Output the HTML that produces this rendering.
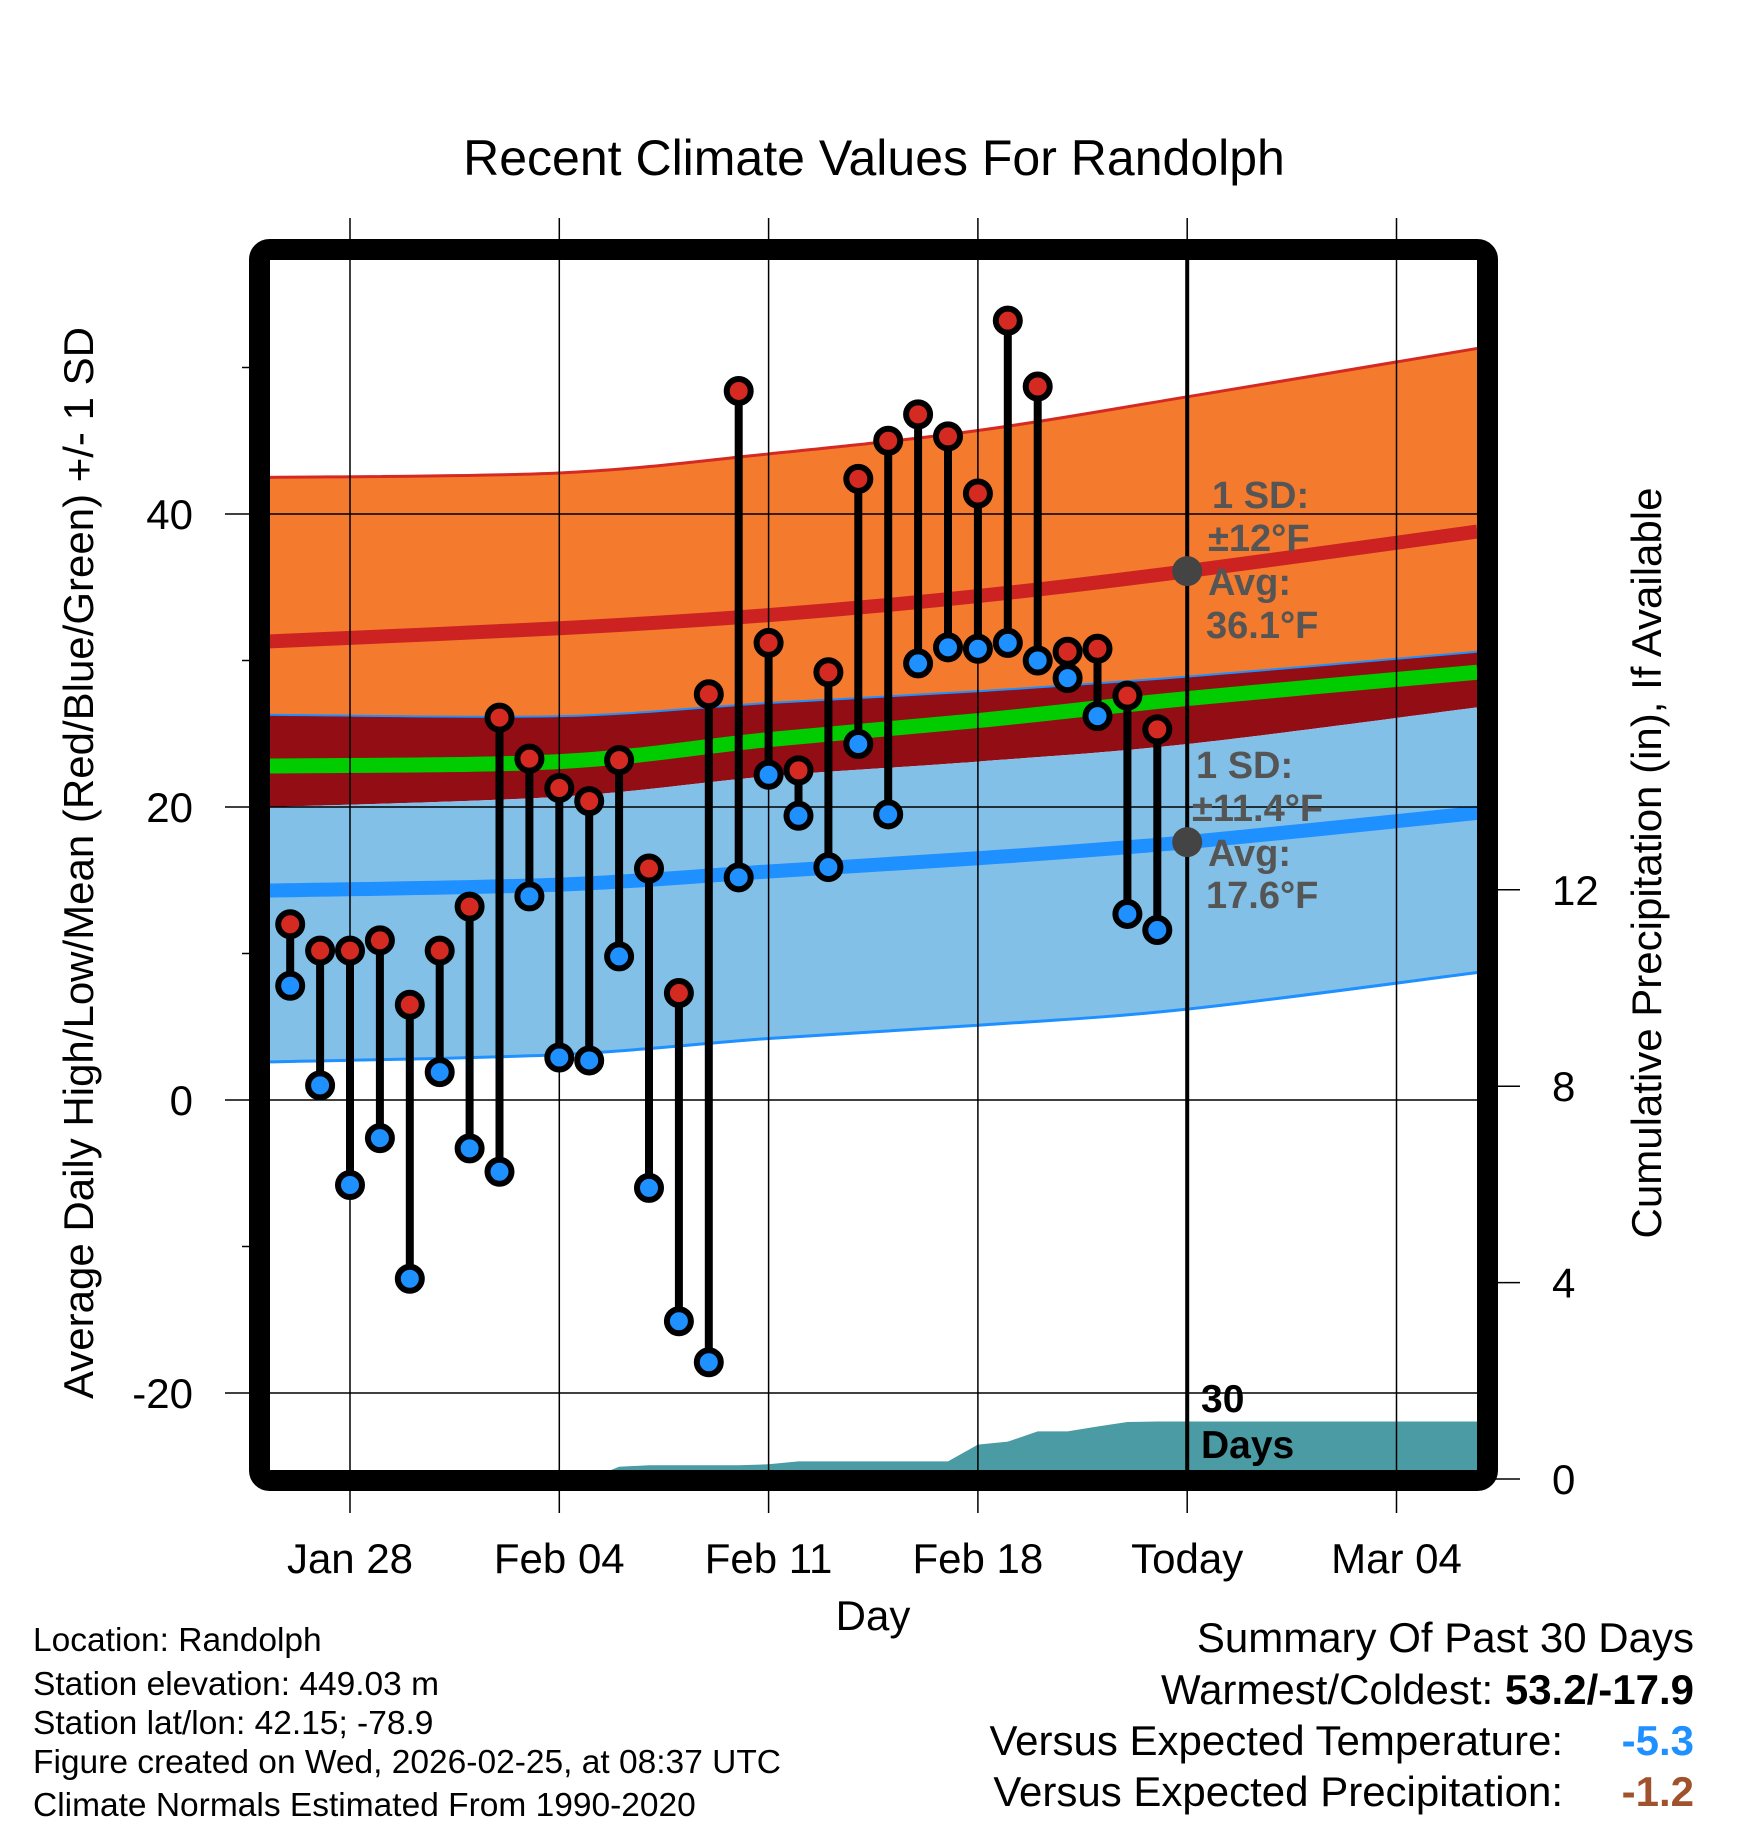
<!DOCTYPE html>
<html><head><meta charset="utf-8"><style>
body{margin:0;background:#fff}
svg{display:block}
text{font-family:"Liberation Sans",sans-serif}
</style></head><body>
<svg id="c" width="1748" height="1828" viewBox="0 0 1748 1828" xmlns="http://www.w3.org/2000/svg">
<defs><clipPath id="clip"><rect x="270" y="260" width="1208" height="1210"/></clipPath></defs>
<text x="874" y="175" font-size="50" text-anchor="middle">Recent Climate Values For Randolph</text>
<g id="normals" clip-path="url(#clip)"></g>
<g id="precip" clip-path="url(#clip)"></g>
<g id="grid"></g>
<g id="series"></g>
<rect x="259.5" y="249.5" width="1228" height="1231" rx="10" fill="none" stroke="#000" stroke-width="21"/>
<g id="axes"></g>
<text transform="translate(93,863) rotate(-90)" font-size="42" text-anchor="middle">Average Daily High/Low/Mean (Red/Blue/Green) +/- 1 SD</text>
<text transform="translate(1661,863) rotate(-90)" font-size="42" text-anchor="middle">Cumulative Precipitation (in), If Available</text>
<text x="873" y="1630" font-size="42" text-anchor="middle">Day</text>
<g font-size="38" font-weight="bold" fill="#555">
<text x="1212" y="508">1 SD:</text><text x="1208" y="551">±12°F</text><text x="1208" y="595">Avg:</text><text x="1206" y="638">36.1°F</text></g>
<g font-size="38" font-weight="bold" fill="#555">
<text x="1196" y="778">1 SD:</text><text x="1192" y="821">±11.4°F</text><text x="1208" y="866">Avg:</text><text x="1206" y="908">17.6°F</text></g>
<g font-size="39" font-weight="bold"><text x="1201" y="1412">30</text><text x="1201" y="1458">Days</text></g>
<g font-size="33.5">
<text x="33" y="1651">Location: Randolph</text>
<text x="33" y="1695">Station elevation: 449.03 m</text>
<text x="33" y="1734">Station lat/lon: 42.15; -78.9</text>
<text x="33" y="1773">Figure created on Wed, 2026-02-25, at 08:37 UTC</text>
<text x="33" y="1816">Climate Normals Estimated From 1990-2020</text></g>
<g font-size="42" text-anchor="end">
<text x="1694" y="1652">Summary Of Past 30 Days</text>
<text x="1694" y="1704">Warmest/Coldest: <tspan font-weight="bold">53.2/-17.9</tspan></text>
<text x="1563" y="1755">Versus Expected Temperature:</text>
<text x="1694" y="1755" font-weight="bold" fill="#1e90ff">-5.3</text>
<text x="1563" y="1806">Versus Expected Precipitation:</text>
<text x="1694" y="1806" font-weight="bold" fill="#a0522d">-1.2</text></g>
</svg>
<script>
// days relative to Jan 28
const obsDays=[-2,-1,0,1,2,3,4,5,6,7,8,9,10,11,12,13,14,15,16,17,18,19,20,21,22,23,24,25,26,27];
const highs=[12.0,10.2,10.2,10.9,6.5,10.2,13.2,26.1,23.3,21.3,20.4,23.2,15.8,7.3,27.7,48.4,31.2,22.5,29.2,42.4,45.0,46.8,45.3,41.4,53.2,48.7,30.6,30.8,27.6,25.3];
const lows=[7.8,1.0,-5.8,-2.6,-12.2,1.9,-3.3,-4.9,13.9,2.9,2.7,9.8,-6.0,-15.1,-17.9,15.2,22.2,19.4,15.9,24.3,19.5,29.8,30.9,30.8,31.2,30.0,28.8,26.2,12.7,11.6];
const normDays=[-2.7,7,14,21,28,37.7];
const highUpper=[42.5,42.8,44.1,45.7,48.0,51.3];
const highMean=[31.3,32.2,33.1,34.4,36.1,38.8];
const lowUpper=[26.3,26.2,27.1,27.9,28.9,30.6];
const meanMean=[22.8,23.1,24.6,25.9,27.4,29.2];
const highLower=[20.0,20.7,22.1,23.1,24.3,26.8];
const lowMean=[14.3,14.7,15.6,16.5,17.6,19.6];
const lowLower=[2.6,3.1,4.2,5.1,6.2,8.7];
const precipDays=[-2,-1,0,1,2,3,4,5,6,7,8,9,10,11,12,13,14,15,16,17,18,19,20,21,22,23,24,25,26,27,38];
const precipVals=[0,0,0,0,0,0,0,0,0,0,0,0.25,0.28,0.28,0.28,0.28,0.30,0.36,0.36,0.36,0.36,0.36,0.36,0.70,0.76,0.97,0.97,1.07,1.16,1.17,1.17];
const yTicks=[-20,0,20,40];
const yMinor=[-10,10,30,50];
const pTicks=[0,4,8,12];
const xTickDays=[0,7,14,21,28,35];
const xTickLabels=["Jan 28","Feb 04","Feb 11","Feb 18","Today","Mar 04"];
const todayDay=28;

const NS="http://www.w3.org/2000/svg";
const X=d=>350+d*29.9, Y=v=>1100-v*14.65, YP=p=>1479-p*49.1;
function mk(tag,attrs,parent){const e=document.createElementNS(NS,tag);for(const k in attrs)e.setAttribute(k,attrs[k]);parent.appendChild(e);return e;}
function pts(days,vals){return days.map((d,i)=>[X(d),Y(vals[i])]);}
function smooth(p){let s="";for(let i=0;i<p.length-1;i++){const p0=p[i-1]||p[i],p1=p[i],p2=p[i+1],p3=p[i+2]||p2;
 const c1=[p1[0]+(p2[0]-p0[0])/6,p1[1]+(p2[1]-p0[1])/6],c2=[p2[0]-(p3[0]-p1[0])/6,p2[1]-(p3[1]-p1[1])/6];
 s+=`C${c1[0]},${c1[1]} ${c2[0]},${c2[1]} ${p2[0]},${p2[1]}`;}return s;}
function band(top,bot){const a=pts(normDays,top),b=pts(normDays,bot).reverse();return `M${a[0][0]},${a[0][1]}`+smooth(a)+`L${b[0][0]},${b[0][1]}`+smooth(b)+"Z";}
function line(v){const a=pts(normDays,v);return `M${a[0][0]},${a[0][1]}`+smooth(a);}
const ng=document.getElementById('normals');
let e;
e=mk('path',{d:band(highUpper,lowUpper),fill:'#f47a2e'},ng);

e=mk('path',{d:line(highUpper),fill:'none',stroke:'#d42a22','stroke-width':3},ng);

e=mk('path',{d:band(lowUpper,highLower),fill:'#930d14'},ng);

e=mk('path',{d:band(highLower,lowLower),fill:'#82c0e8'},ng);

e=mk('path',{d:line(lowUpper),fill:'none',stroke:'#1e90ff','stroke-width':2},ng);

e=mk('path',{d:line(lowLower),fill:'none',stroke:'#1e90ff','stroke-width':3},ng);

e=mk('path',{d:line(highMean),fill:'none',stroke:'#cc2222','stroke-width':14},ng);

e=mk('path',{d:line(meanMean),fill:'none',stroke:'#00cc00','stroke-width':15},ng);

e=mk('path',{d:line(lowMean),fill:'none',stroke:'#1e90ff','stroke-width':14},ng);


const pg=document.getElementById('precip');
let pd=`M${X(precipDays[0])},${YP(0)}`;precipDays.forEach((d,i)=>{pd+=`L${X(d)},${YP(precipVals[i])}`;});
pd+=`L${X(precipDays[precipDays.length-1])},${YP(0)}Z`;
e=mk('path',{d:pd,fill:'#4a9ba3'},pg);


const gg=document.getElementById('grid'),ag=document.getElementById('axes');
xTickDays.forEach((d,i)=>{
 e=mk('line',{x1:X(d),x2:X(d),y1:218,y2:1513,stroke:'#000','stroke-width':1.5},gg);
 
 e=mk('text',{x:X(d),y:1573,'font-size':42,'text-anchor':'middle'},ag);e.textContent=xTickLabels[i];
 
});
yTicks.forEach(v=>{
 e=mk('line',{x1:225,x2:1478,y1:Y(v),y2:Y(v),stroke:'#000','stroke-width':1.5},gg);
 
 e=mk('text',{x:193,y:Y(v)+15,'font-size':42,'text-anchor':'end'},ag);e.textContent=v;
 
});
yMinor.forEach(v=>{
 e=mk('line',{x1:242,x2:255,y1:Y(v),y2:Y(v),stroke:'#000','stroke-width':1.5},ag);
 
});
pTicks.forEach(p=>{
 e=mk('line',{x1:1495,x2:1520,y1:YP(p),y2:YP(p),stroke:'#000','stroke-width':1.5},ag);
 
 e=mk('text',{x:1552,y:YP(p)+15,'font-size':42},ag);e.textContent=p;
 
});
e=mk('line',{x1:X(todayDay),x2:X(todayDay),y1:255,y2:1475,stroke:'#000','stroke-width':4},gg);

const todayIdx=normDays.indexOf(todayDay);
e=mk('circle',{cx:X(todayDay),cy:Y(highMean[todayIdx]),r:15,fill:'#444'},gg);

e=mk('circle',{cx:X(todayDay),cy:Y(lowMean[todayIdx]),r:15,fill:'#444'},gg);


const sg=document.getElementById('series');
obsDays.forEach((d,i)=>{
 e=mk('line',{x1:X(d),x2:X(d),y1:Y(highs[i]),y2:Y(lows[i]),stroke:'#000','stroke-width':8},sg);
 
});
obsDays.forEach((d,i)=>{
 e=mk('circle',{cx:X(d),cy:Y(highs[i]),r:12,fill:'#d42a22',stroke:'#000','stroke-width':6},sg);
 
 e=mk('circle',{cx:X(d),cy:Y(lows[i]),r:12,fill:'#1e90ff',stroke:'#000','stroke-width':6},sg);
 
});
</script>
</body></html>
